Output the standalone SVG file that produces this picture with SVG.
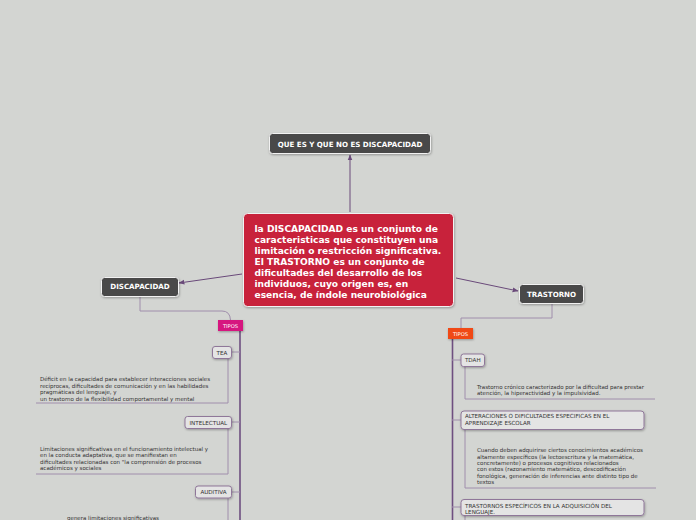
<svg xmlns="http://www.w3.org/2000/svg" width="696" height="520" viewBox="0 0 696 520">
<defs>
<marker id="arr" viewBox="0 0 10 10" refX="9" refY="5" markerWidth="6" markerHeight="6" orient="auto-start-reverse" markerUnits="userSpaceOnUse">
<path d="M0,1 L10,5 L0,9 Z" fill="#6a4a7a"/>
</marker>
<filter id="sh" x="-20%" y="-20%" width="140%" height="160%">
<feDropShadow dx="0.6" dy="1" stdDeviation="0.8" flood-color="#000" flood-opacity="0.3"/>
</filter>
</defs>
<style>
.main{fill:#4a4a48;stroke:#f2f2f2;stroke-width:1;filter:url(#sh)}
.mt{font-family:"DejaVu Sans",Verdana,sans-serif;font-weight:bold;fill:#fff;text-anchor:middle}
.sub{fill:#e4e4e4;stroke:#8f7799;stroke-width:1;filter:url(#sh)}
.st{font-family:"DejaVu Sans",Verdana,sans-serif;font-size:5.6px;fill:#333}
.d{font-family:"DejaVu Sans",Verdana,sans-serif;font-size:5.5px;fill:#333}
.thin{fill:none;stroke:#a08eac;stroke-width:1}
.thick{fill:none;stroke:#6e4f80;stroke-width:1.6}
.arrow{fill:none;stroke:#6a4a7a;stroke-width:1;marker-end:url(#arr)}
</style>
<rect x="0" y="0" width="696" height="520" fill="#d3d5d2"/>
<g id="connectors">
<line class="arrow" x1="350" y1="212" x2="350" y2="155"/>
<line class="arrow" x1="242" y1="274" x2="179" y2="283"/>
<line class="arrow" x1="456" y1="278" x2="518" y2="291"/>
<path class="thin" d="M140,297 V311 H222 Q230,311 230.5,320"/>
<path class="thick" d="M240,331 V520"/>
<path class="thin" d="M231,352 H240"/>
<path class="thin" d="M228,358 V403 H36"/>
<path class="thin" d="M232,422 H240"/>
<path class="thin" d="M228,428 V474 H36"/>
<path class="thin" d="M231,492 H240"/>
<path class="thin" d="M228,498 V520"/>
<path class="thin" d="M552,304 V318 H461 V328"/>
<path class="thick" d="M452.5,339 V520"/>
<path class="thin" d="M452,360 H461"/>
<path class="thin" d="M465,367 V399 H655"/>
<path class="thin" d="M452,420 H461"/>
<path class="thin" d="M465,429 V488 H656"/>
<path class="thin" d="M452,507 H461"/>
<path class="thin" d="M465,515 V520"/>
</g>
<g id="n-que">
<rect class="main" x="269.5" y="133.5" width="161" height="20" rx="3"/>
<text class="mt" x="350" y="146.5" font-size="7.1">QUE ES Y QUE NO ES DISCAPACIDAD</text>
</g>
<g id="n-central">
<rect x="243.5" y="213.5" width="210" height="93" rx="4" fill="#c8203a" stroke="#f2f2f2" stroke-width="1" filter="url(#sh)"/>
<g font-family="DejaVu Sans,Verdana,sans-serif" font-weight="bold" font-size="9.1" fill="#fff">
<text x="254.5" y="231.5">la DISCAPACIDAD es un conjunto de</text>
<text x="254.5" y="242.5">caracteristicas que constituyen una</text>
<text x="254.5" y="253.5">limitación o restricción significativa.</text>
<text x="254.5" y="264.5">El TRASTORNO es un conjunto de</text>
<text x="254.5" y="275.5">dificultades del desarrollo de los</text>
<text x="254.5" y="286.5">individuos, cuyo origen es, en</text>
<text x="254.5" y="297.5">esencia, de índole neurobiológica</text>
</g>
</g>
<g id="n-discapacidad">
<rect class="main" x="101.5" y="277.5" width="77" height="19" rx="3"/>
<text class="mt" x="140" y="289" font-size="7.1">DISCAPACIDAD</text>
</g>
<g id="n-trastorno">
<rect class="main" x="519.5" y="284.5" width="64" height="19" rx="3"/>
<text class="mt" x="551.5" y="296.5" font-size="7.1">TRASTORNO</text>
</g>
<g id="n-tipos1">
<rect x="218" y="320" width="25" height="11" fill="#d6177f" filter="url(#sh)"/>
<text x="230.5" y="327.6" font-family="DejaVu Sans,sans-serif" font-size="5.2" fill="#fff" text-anchor="middle">TIPOS</text>
</g>
<g id="n-tea">
<rect class="sub" x="212.5" y="346.5" width="19" height="12" rx="2.5"/>
<text class="st" x="222" y="354.6" text-anchor="middle">TEA</text>
</g>
<g id="t-tea">
<text class="d" x="40" y="381">Déficit en la capacidad para establecer interacciones sociales</text>
<text class="d" x="40" y="387.5">recíprocas, dificultades de comunicación y en las habilidades</text>
<text class="d" x="40" y="393.5">pragmáticas del lenguaje, y</text>
<text class="d" x="40" y="400.5">un trastorno de la flexibilidad comportamental y mental</text>
</g>
<g id="n-intelectual">
<rect class="sub" x="185" y="416.5" width="46.5" height="12" rx="2.5"/>
<text class="st" x="208.3" y="424.6" text-anchor="middle">INTELECTUAL</text>
</g>
<g id="t-intelectual">
<text class="d" x="40" y="451">Limitaciones significativas en el funcionamiento intelectual y</text>
<text class="d" x="40" y="457">en la conducta adaptativa, que se manifiestan en</text>
<text class="d" x="40" y="463.5">dificultades relacionadas con "la comprensión de procesos</text>
<text class="d" x="40" y="469.5">académicos y sociales</text>
</g>
<g id="n-auditiva">
<rect class="sub" x="195.5" y="486" width="36" height="12" rx="2.5"/>
<text class="st" x="213.5" y="494.1" text-anchor="middle">AUDITIVA</text>
</g>
<g id="t-auditiva">
<text class="d" x="67" y="519.8">genera limitaciones significativas</text>
</g>
<g id="n-tipos2">
<rect x="448" y="328" width="25" height="11" fill="#f04a17" filter="url(#sh)"/>
<text x="460.5" y="335.6" font-family="DejaVu Sans,sans-serif" font-size="5.2" fill="#fff" text-anchor="middle">TIPOS</text>
</g>
<g id="n-tdah">
<rect class="sub" x="461" y="354" width="23.5" height="12.5" rx="2.5"/>
<text class="st" x="472.8" y="362.3" text-anchor="middle">TDAH</text>
</g>
<g id="t-tdah">
<text class="d" x="477" y="388.5">Trastorno crónico caracterizado por la dificultad para prestar</text>
<text class="d" x="477" y="394.5">atención, la hiperactividad y la impulsividad.</text>
</g>
<g id="n-alteraciones">
<rect class="sub" x="461" y="411" width="183" height="18.5" rx="3"/>
<text class="st" x="465" y="418.3">ALTERACIONES O DIFICULTADES ESPECIFICAS EN EL</text>
<text class="st" x="465" y="424.8">APRENDIZAJE ESCOLAR</text>
</g>
<g id="t-alteraciones">
<text class="d" x="477" y="452">Cuando deben adquirirse ciertos conocimientos académicos</text>
<text class="d" x="477" y="458.5">altamente específicos (la lectoescritura y la matemática,</text>
<text class="d" x="477" y="464.5">concretamente) o procesos cognitivos relacionados</text>
<text class="d" x="477" y="471">con estos (razonamiento matemático, descodificación</text>
<text class="d" x="477" y="477.5">fonológica, generación de inferencias ante distinto tipo de</text>
<text class="d" x="477" y="484">textos</text>
</g>
<g id="n-trastornos-esp">
<rect class="sub" x="461" y="499.5" width="183" height="16" rx="3"/>
<text class="st" x="465" y="507.5">TRASTORNOS ESPECÍFICOS EN LA ADQUISICIÓN DEL</text>
<text class="st" x="465" y="513.5">LENGUAJE.</text>
</g>
</svg>
